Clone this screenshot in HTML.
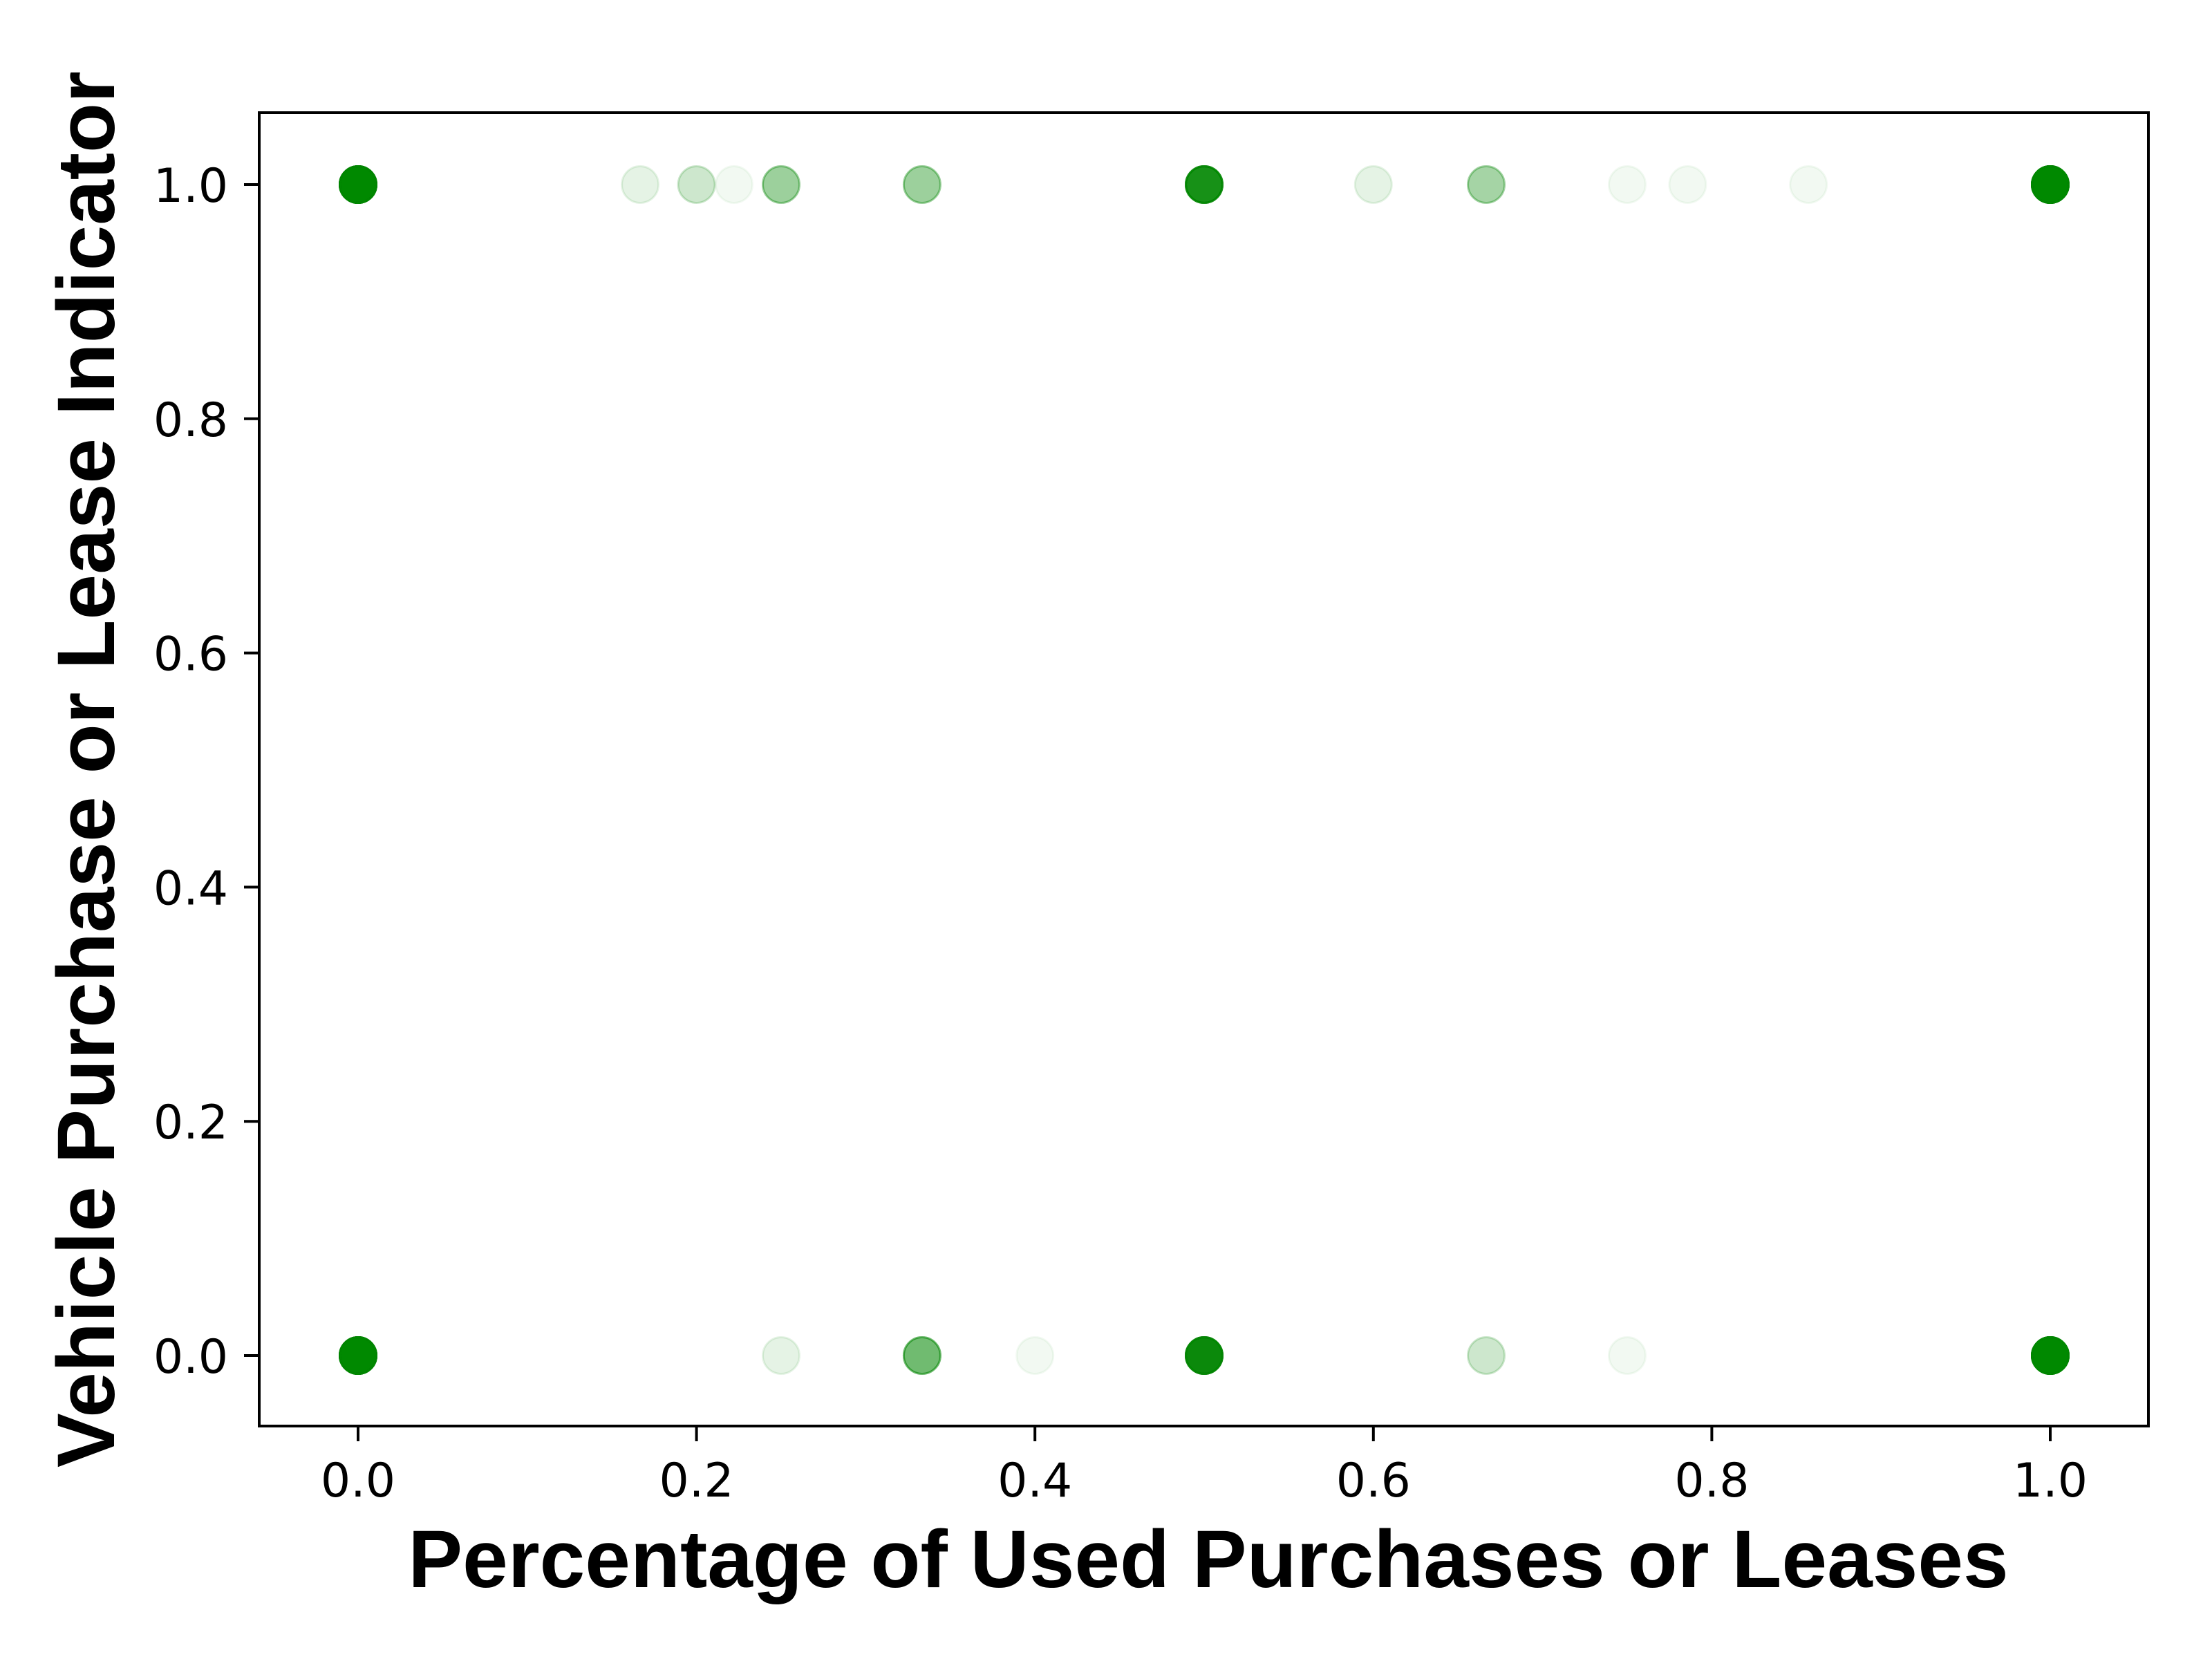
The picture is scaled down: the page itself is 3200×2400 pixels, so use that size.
<!DOCTYPE html>
<html><head><meta charset="utf-8"><style>
html,body{margin:0;padding:0;background:#fff;}
svg{display:block;}
text{font-family:"DejaVu Sans",sans-serif;}
</style></head><body>
<svg id="chart" width="3200" height="2400" viewBox="0 0 3200 2400" xmlns="http://www.w3.org/2000/svg">
<rect width="3200" height="2400" fill="#fff"/>
<g id="points"></g>
<g id="axes"></g>
<text x="1748" y="2296" text-anchor="middle" font-weight="bold" font-size="118" style="font-family:'Liberation Sans',sans-serif">Percentage of Used Purchases or Leases</text>
<text transform="translate(165,1113) rotate(-90)" text-anchor="middle" font-weight="bold" font-size="118" style="font-family:'Liberation Sans',sans-serif">Vehicle Purchase or Lease Indicator</text>
</svg>
<script>
const xVals = [0, 0.1667, 0.2, 0.2222, 0.25, 0.3333, 0.5, 0.6, 0.6667, 0.75, 0.7857, 0.8571, 1.0,
               0, 0.25, 0.3333, 0.4, 0.5, 0.6667, 0.75, 1.0];
const yVals = [1,1,1,1,1,1,1,1,1,1,1,1,1, 0,0,0,0,0,0,0,0];
const counts = [80, 2, 4, 1, 9, 9, 40, 2, 8, 1, 1, 1, 80,
                80, 2, 15, 1, 50, 4, 1, 80];
const xTicks = [0.0, 0.2, 0.4, 0.6, 0.8, 1.0];
const yTicks = [0.0, 0.2, 0.4, 0.6, 0.8, 1.0];
const xTickLabels = ["0.0","0.2","0.4","0.6","0.8","1.0"];
const yTickLabels = ["0.0","0.2","0.4","0.6","0.8","1.0"];

const NS = "http://www.w3.org/2000/svg";
const L = 375, R = 3108, T = 163, B = 2063;
function xs(v){ return 518 + v * 2448; }
function ys(v){ return 1961 - v * 1694; }
const pts = document.getElementById('points');
for (let i = 0; i < xVals.length; i++) {
  const g = document.createElementNS(NS, 'g');
  
  
  for (let k = 0; k < counts[i]; k++) {
    const c = document.createElementNS(NS, 'circle');
    
    
    c.setAttribute('cx', xs(xVals[i]));
    c.setAttribute('cy', ys(yVals[i]));
    c.setAttribute('r', 26.5);
    c.setAttribute('fill', 'rgba(0,128,0,0.05)');
    c.setAttribute('stroke', 'rgba(0,128,0,0.05)');
    c.setAttribute('stroke-width', 3);
    g.appendChild(c);
  }
  pts.appendChild(g);
}
const ax = document.getElementById('axes');
const frame = document.createElementNS(NS, 'rect');


frame.setAttribute('x', L); frame.setAttribute('y', T);
frame.setAttribute('width', R - L); frame.setAttribute('height', B - T);
frame.setAttribute('fill', 'none'); frame.setAttribute('stroke', '#000'); frame.setAttribute('stroke-width', 4);
ax.appendChild(frame);
xTicks.forEach((v, i) => {
  const l = document.createElementNS(NS, 'line');
  
  
  l.setAttribute('x1', xs(v)); l.setAttribute('x2', xs(v));
  l.setAttribute('y1', B); l.setAttribute('y2', B + 22);
  l.setAttribute('stroke', '#000'); l.setAttribute('stroke-width', 4);
  ax.appendChild(l);
  const t = document.createElementNS(NS, 'text');
  
  
  t.setAttribute('x', xs(v)); t.setAttribute('y', 2165);
  t.setAttribute('text-anchor', 'middle'); t.setAttribute('font-size', 68);
  t.textContent = xTickLabels[i];
  ax.appendChild(t);
});
yTicks.forEach((v, i) => {
  const l = document.createElementNS(NS, 'line');
  
  
  l.setAttribute('x1', L - 22); l.setAttribute('x2', L);
  l.setAttribute('y1', ys(v)); l.setAttribute('y2', ys(v));
  l.setAttribute('stroke', '#000'); l.setAttribute('stroke-width', 4);
  ax.appendChild(l);
  const t = document.createElementNS(NS, 'text');
  
  
  t.setAttribute('x', 330); t.setAttribute('y', ys(v) + 25);
  t.setAttribute('text-anchor', 'end'); t.setAttribute('font-size', 68);
  t.textContent = yTickLabels[i];
  ax.appendChild(t);
});
</script>
</body></html>
